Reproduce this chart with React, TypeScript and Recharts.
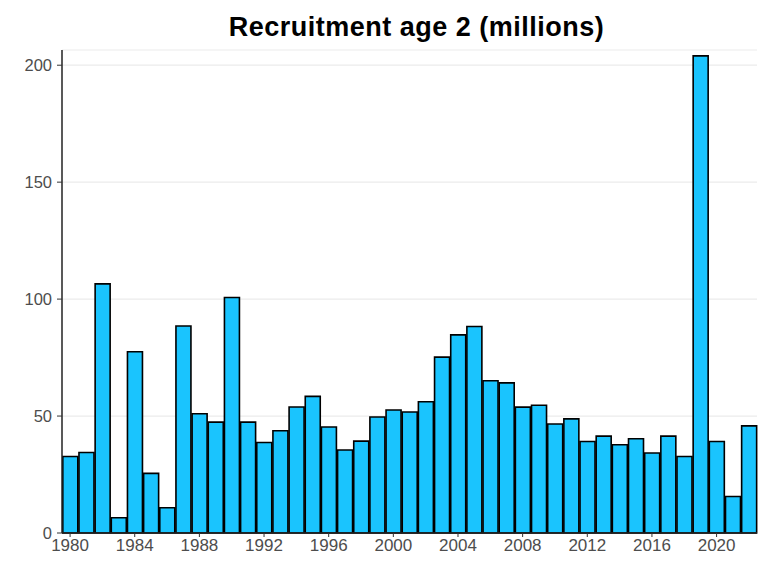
import { BarChart, Bar, XAxis, YAxis, CartesianGrid } from 'recharts';

const years = [
  1980, 1981, 1982, 1983, 1984, 1985, 1986, 1987, 1988, 1989,
  1990, 1991, 1992, 1993, 1994, 1995, 1996, 1997, 1998, 1999,
  2000, 2001, 2002, 2003, 2004, 2005, 2006, 2007, 2008, 2009,
  2010, 2011, 2012, 2013, 2014, 2015, 2016, 2017, 2018, 2019,
  2020, 2021, 2022,
];

// recruitment at age 2, millions
const recruits = [
  32.7, 34.4, 106.5, 6.5, 77.5, 25.5, 10.8, 88.5, 51, 47.4,
  100.7, 47.4, 38.7, 43.7, 53.9, 58.4, 45.3, 35.5, 39.3, 49.6,
  52.6, 51.7, 56.1, 75.2, 84.7, 88.3, 65.1, 64.2, 53.8, 54.6,
  46.6, 48.8, 39.1, 41.4, 37.7, 40.3, 34.2, 41.4, 32.7, 204,
  39.1, 15.6, 45.8,
];

const yTicks = [0, 50, 100, 150, 200];

const data = years.map((y, i) => ({ year: y, value: recruits[i] }));

const FONT = '"Liberation Sans", Arial, sans-serif';

export default function App() {
  return (
    <div style={{ position: 'absolute', left: 0, top: 0, width: 759, height: 562, background: '#fff' }}>
      <div
        style={{
          position: 'absolute',
          top: 10,
          left: 0,
          width: 759,
          paddingLeft: 74,
          boxSizing: 'border-box',
          textAlign: 'center',
          fontFamily: FONT,
          fontWeight: 'bold',
          fontSize: 27,
          letterSpacing: 0.5,
          color: '#000',
          lineHeight: '34px',
        }}
      >
        Recruitment age 2 (millions)
      </div>
      <BarChart
        width={759}
        height={562}
        data={data}
        margin={{ top: 50, right: 2, left: 0, bottom: 0 }}
        barCategoryGap="5%"
      >
        <CartesianGrid vertical={false} stroke="#ebebeb" strokeWidth={1.2} />
        <XAxis
          dataKey="year"
          interval={3}
          height={29}
          tickSize={4}
          tickMargin={2}
          axisLine={{ stroke: '#222', strokeWidth: 1.5 }}
          tickLine={{ stroke: '#333' }}
          tick={{ fill: '#4d4d4d', fontSize: 17, fontFamily: FONT }}
        />
        <YAxis
          width={62}
          domain={[0, 206.5]}
          ticks={yTicks}
          tickSize={5}
          tickMargin={5}
          axisLine={{ stroke: '#222', strokeWidth: 1.5 }}
          tickLine={{ stroke: '#333' }}
          tick={{ fill: '#4d4d4d', fontSize: 16.5, fontFamily: FONT }}
        />
        <Bar dataKey="value" fill="#1AC4FE" stroke="#000" strokeWidth={1.6} isAnimationActive={false} />
      </BarChart>
    </div>
  );
}
